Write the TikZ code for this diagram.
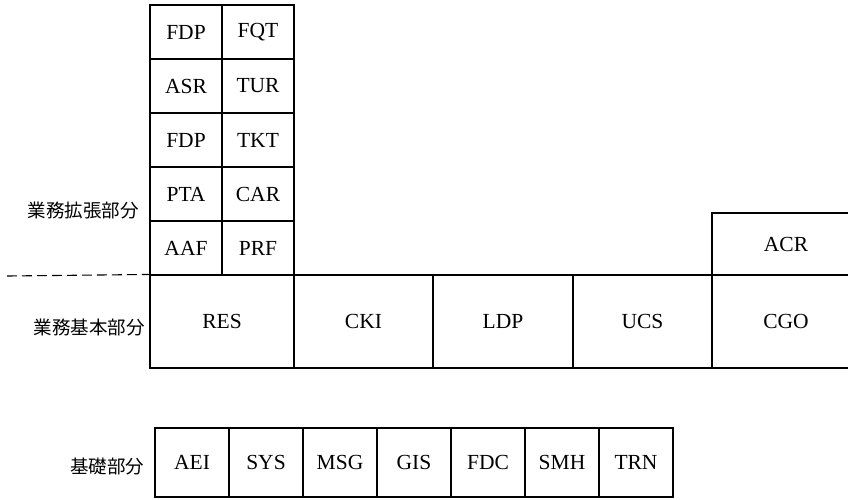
\documentclass[tikz,border=0pt]{standalone}
\usepackage{fontspec}
\setmainfont{Liberation Serif}
\newfontfamily\jpfont{Noto Sans CJK JP}
\usepackage{tikz}

\begin{document}
\begin{tikzpicture}[x=1pt, y=-1pt,
        cell/.style={draw, line width=1.1pt, inner sep=0pt, font=\fontsize{21.5}{21.5}\selectfont},
        part/.style={inner sep=0pt, font=\jpfont\fontsize{18.5}{18.5}\selectfont}]
        \useasboundingbox (0,0) rectangle (848,499);
        % extension part: two columns of five cells
        \foreach \a/\b [count=\i from 0] in {FDP/FQT, ASR/TUR, FDP/TKT, PTA/CAR, AAF/PRF} {
          \node[cell, minimum width=72pt, minimum height=54pt] (extl\i) at (186, {32+54*\i}) {\a};
          \node[cell, minimum width=72pt, minimum height=54pt] (extr\i) at (258, {32+54*\i}) {\b};
        }
        \node[part] (extlabel) at (83, 211) {業務拡張部分};
        % basic part
        \node[cell, minimum width=144pt, minimum height=93pt] (res) at (222, 321.5) {RES};
        \node[cell, minimum width=139pt, minimum height=93pt] (cki) at (363.5, 321.5) {CKI};
        \node[cell, minimum width=140pt, minimum height=93pt] (ldp) at (503, 321.5) {LDP};
        \node[cell, minimum width=139pt, minimum height=93pt] (ucs) at (642.5, 321.5) {UCS};
        \node[cell, minimum width=148pt, minimum height=93pt] (cgo) at (786, 321.5) {CGO};
        \node[cell, minimum width=148pt, minimum height=62pt] (acr) at (786, 244) {ACR};
        \node[part] (baslabel) at (89, 327) {業務基本部分};
        \coordinate (dashstart) at (7, 276);
        \draw[line width=1.1pt, dash pattern=on 10pt off 5pt] (dashstart) -- (res.north west);
        % foundation part
        \foreach \t [count=\i from 0] in {AEI, SYS, MSG, GIS, FDC, SMH, TRN} {
          \node[cell, minimum width=74pt, minimum height=69pt] (fnd\i) at ({192+74*\i}, 462.5) {\t};
        }
        \node[part] (fndlabel) at (107, 467) {基礎部分};
      \end{tikzpicture}
\end{document}
